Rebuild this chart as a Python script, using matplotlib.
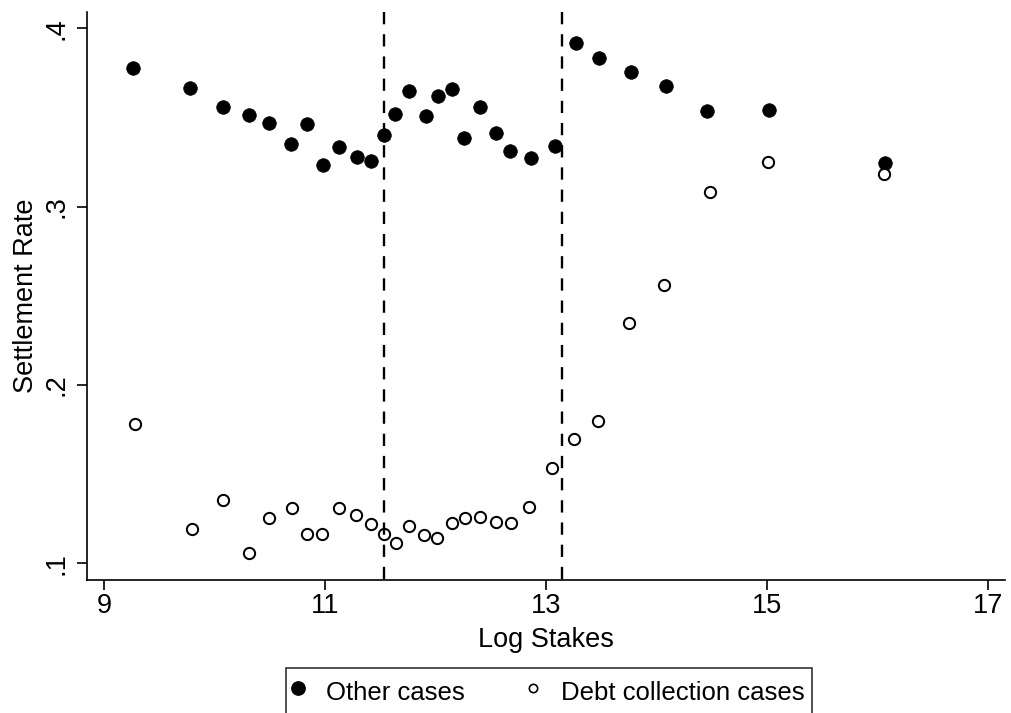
import numpy as np
import matplotlib
matplotlib.use("Agg")
import matplotlib.pyplot as plt
from matplotlib.lines import Line2D

plt.rcParams['font.family'] = ['Liberation Sans', 'DejaVu Sans']

# binned settlement rates by log stakes
other_x = [9.26, 9.78, 10.08, 10.31, 10.49, 10.69, 10.84, 10.98, 11.13, 11.29,
           11.42, 11.53, 11.63, 11.76, 11.91, 12.02, 12.15, 12.26, 12.40, 12.55,
           12.67, 12.86, 13.08, 13.27, 13.48, 13.77, 14.09, 14.46, 15.02, 16.07]
other_rate = [0.3776, 0.3663, 0.3560, 0.3514, 0.3467, 0.3351, 0.3463, 0.3235, 0.3336, 0.3277,
              0.3257, 0.3400, 0.3519, 0.3650, 0.3508, 0.3619, 0.3658, 0.3385, 0.3559, 0.3411,
              0.3312, 0.3273, 0.3338, 0.3916, 0.3832, 0.3757, 0.3678, 0.3536, 0.3543, 0.3246]

debt_x = [9.28, 9.80, 10.08, 10.31, 10.49, 10.70, 10.84, 10.97, 11.13, 11.28,
          11.42, 11.53, 11.64, 11.76, 11.90, 12.01, 12.15, 12.27, 12.40, 12.55,
          12.68, 12.85, 13.05, 13.25, 13.47, 13.75, 14.07, 14.48, 15.01, 16.06]
debt_rate = [0.1781, 0.1192, 0.1353, 0.1056, 0.1254, 0.1310, 0.1164, 0.1164, 0.1310, 0.1270,
             0.1218, 0.1164, 0.1112, 0.1209, 0.1156, 0.1140, 0.1225, 0.1254, 0.1257, 0.1229,
             0.1227, 0.1315, 0.1532, 0.1698, 0.1796, 0.2347, 0.2562, 0.3080, 0.3250, 0.3185]

# thresholds marked with vertical dashed lines
cutoffs = [11.534, 13.149]

x_ticks = [9, 11, 13, 15, 17]
y_ticks = [0.1, 0.2, 0.3, 0.4]
y_tick_labels = ['.1', '.2', '.3', '.4']

W, H = 1011, 713
fig = plt.figure(figsize=(W / 100, H / 100), dpi=100)
left, right, bottom, top = 87.3, 1005, 580, 12
ax = fig.add_axes([left / W, (H - bottom) / H, (right - left) / W, (bottom - top) / H])

ax.plot(other_x, other_rate, linestyle='none', marker='o', ms=9.8,
        mfc='black', mec='black', mew=0.5)
ax.plot(debt_x, debt_rate, linestyle='none', marker='o', ms=8.1,
        mfc='white', mec='black', mew=1.45)

# drawn top-down so the dash pattern starts at the top of the plot
for c in cutoffs:
    ax.axvline(c, ymin=1, ymax=0, color='black', lw=1.7, dashes=(5.2, 4.2))

ax.set_xlim(8.849, 17.154)
ax.set_ylim(0.0906, 0.4091)
ax.set_xticks(x_ticks)
ax.set_xticklabels([str(t) for t in x_ticks])
ax.set_yticks(y_ticks)
ax.set_yticklabels(y_tick_labels, rotation=90, va='center')

for side in ['top', 'right']:
    ax.spines[side].set_visible(False)
for side in ['left', 'bottom']:
    ax.spines[side].set_linewidth(1.2)

ax.tick_params(axis='both', direction='out', length=7.5, width=1.2,
               labelsize=19.5, colors='black')
ax.tick_params(axis='y', pad=5)
ax.tick_params(axis='x', pad=2)

ax.set_xlabel('Log Stakes', fontsize=19.5)
ax.set_ylabel('Settlement Rate', fontsize=19.5)
ax.xaxis.set_label_coords(0.5, -(627 - bottom) / (bottom - top))
ax.yaxis.set_label_coords(-(left - 39) / (right - left), 0.5)

handles = [
    Line2D([], [], linestyle='none', marker='o', ms=9.6, mfc='black', mec='black'),
    Line2D([], [], linestyle='none', marker='o', ms=6.0, mfc='white', mec='black', mew=1.2),
]
leg_top = (H - 667.5) / H
leg = fig.legend(handles, ['Other cases', 'Debt collection cases'],
                 loc='upper left', bbox_to_anchor=(286 / W, leg_top - 0.1, 526 / W, 0.1),
                 mode='expand', ncol=2, fontsize=18.5, frameon=True, fancybox=False,
                 edgecolor='black', handlelength=0.36, handletextpad=0.88,
                 handleheight=1.6, borderpad=0.3, borderaxespad=0)
leg.get_frame().set_linewidth(1.2)

fig.savefig('out.png', dpi=100)
